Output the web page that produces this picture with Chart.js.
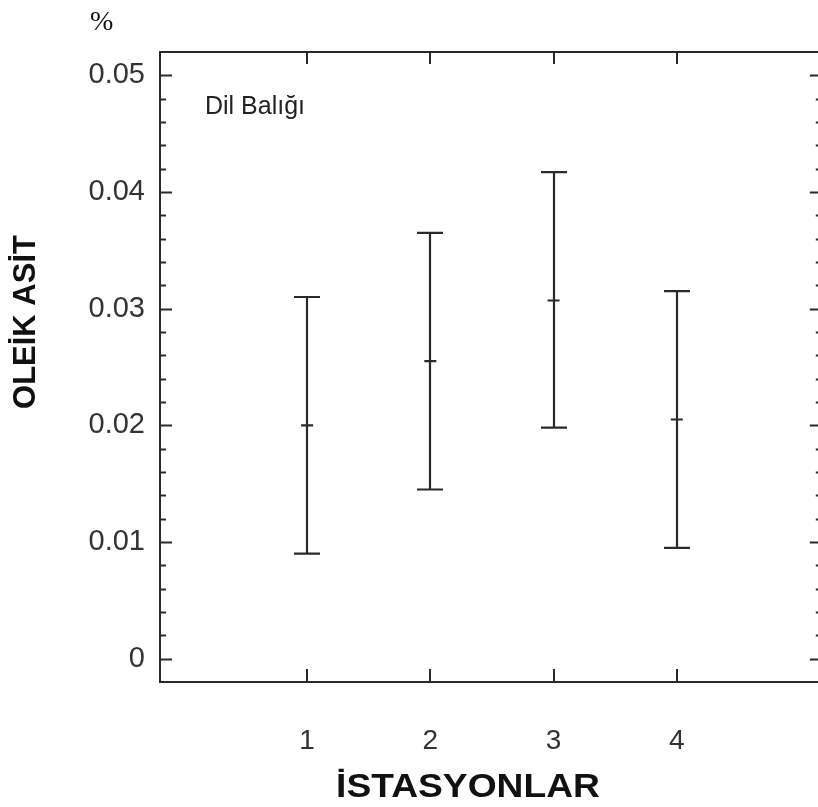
<!DOCTYPE html>
<html>
<head>
<meta charset="utf-8">
<script src="https://cdn.jsdelivr.net/npm/chart.js@4.4.0/dist/chart.umd.min.js"></script>
<style>
  html, body { margin: 0; padding: 0; background: #fff; overflow: hidden; }
  #wrap { position: absolute; left: 0; top: 0; width: 830px; height: 807px; }
</style>
</head>
<body>
<div id="wrap"><canvas id="chart" width="830" height="807"></canvas></div>
<script>
// Values (mean and error bar ends per station)
const stations = [1, 2, 3, 4];
const means = [0.0200, 0.0255, 0.0307, 0.0205];
const upper = [0.0310, 0.0365, 0.0417, 0.0315];
const lower = [0.0090, 0.0145, 0.0198, 0.0095];
const yTicks = [0, 0.01, 0.02, 0.03, 0.04, 0.05];

const ink = '#2a2a2a';
const isMajor = v => yTicks.some(t => Math.abs(t - v) < 1e-9);

// frame, inward ticks and error bars
const framePlugin = {
  id: 'frame',
  beforeDatasetsDraw(chart) {
    const { ctx, chartArea: a, scales: { x, y } } = chart;
    ctx.save();
    ctx.strokeStyle = ink;
    ctx.lineWidth = 2;
    ctx.beginPath();
    ctx.rect(a.left, a.top, a.right - a.left, a.bottom - a.top);
    y.ticks.forEach(t => {
      const py = Math.round(y.getPixelForValue(t.value)) + 0.5;
      if (py <= a.top + 2 || py >= a.bottom - 2) return;
      const len = isMajor(t.value) ? 12 : 6;
      ctx.moveTo(a.left, py); ctx.lineTo(a.left + len, py);
      ctx.moveTo(a.right, py); ctx.lineTo(a.right - len, py);
    });
    x.ticks.forEach(t => {
      const px = Math.round(x.getPixelForValue(t.value));
      ctx.moveTo(px, a.top); ctx.lineTo(px, a.top + 12);
      ctx.moveTo(px, a.bottom); ctx.lineTo(px, a.bottom - 13);
    });
    ctx.stroke();

    // error bars
    ctx.lineWidth = 2.2;
    ctx.beginPath();
    stations.forEach((s, i) => {
      const px = Math.round(x.getPixelForValue(s));
      const top = y.getPixelForValue(upper[i]);
      const bot = y.getPixelForValue(lower[i]);
      ctx.moveTo(px, top); ctx.lineTo(px, bot);
      ctx.moveTo(px - 13, top); ctx.lineTo(px + 13, top);
      ctx.moveTo(px - 13, bot); ctx.lineTo(px + 13, bot);
    });
    ctx.stroke();
    ctx.restore();
  },
  afterDraw(chart) {
    const { ctx } = chart;
    ctx.save();
    ctx.fillStyle = '#111';
    ctx.textBaseline = 'alphabetic';
    ctx.textAlign = 'left';
    ctx.font = '28px "Liberation Serif"';
    ctx.fillText('%', 90, 30);

    ctx.fillStyle = '#222';
    ctx.font = '25px "Liberation Sans"';
    ctx.fillText('Dil Balığı', 205, 114);

    ctx.fillStyle = '#111';
    ctx.font = 'bold 31px "Liberation Sans"';
    ctx.textAlign = 'center';
    ctx.textBaseline = 'middle';

    ctx.save();
    ctx.translate(468, 788);
    ctx.scale(1.2, 1.05);
    ctx.fillText('İSTASYONLAR', 0, 0);
    ctx.restore();

    ctx.translate(26, 322);
    ctx.rotate(-Math.PI / 2);
    ctx.fillText('OLEİK ASİT', 0, 0);
    ctx.restore();
  }
};

new Chart(document.getElementById('chart'), {
  type: 'scatter',
  data: {
    datasets: [{
      label: 'Oleik asit',
      data: stations.map((s, i) => ({ x: s, y: means[i] })),
      pointStyle: 'line',
      pointRadius: 6,
      borderWidth: 2.2,
      borderColor: ink,
      backgroundColor: ink,
      showLine: false
    }]
  },
  options: {
    responsive: false,
    animation: false,
    layout: { padding: { top: 52, right: 4, bottom: 0, left: 0 } },
    plugins: { legend: { display: false }, tooltip: { enabled: false } },
    scales: {
      x: {
        type: 'linear',
        min: -0.194,
        max: 5.177,
        grid: { display: false, drawTicks: false },
        border: { display: false },
        afterBuildTicks: axis => { axis.ticks = stations.map(v => ({ value: v })); },
        afterFit: s => { s.height = 125; },
        ticks: {
          autoSkip: false,
          maxRotation: 0,
          padding: 42,
          color: '#333',
          font: { family: '"Liberation Sans"', size: 28 },
          callback: v => String(v)
        }
      },
      y: {
        min: -0.002,
        max: 0.052,
        grid: { display: false, drawTicks: false },
        border: { display: false },
        afterFit: s => { s.width = 160; },
        ticks: {
          stepSize: 0.002,
          autoSkip: false,
          padding: 15,
          color: '#333',
          font: { family: '"Liberation Sans"', size: 29 },
          callback: v => isMajor(v) ? String(parseFloat(v.toFixed(2))) : ''
        }
      }
    }
  },
  plugins: [framePlugin]
});
</script>
</body>
</html>
